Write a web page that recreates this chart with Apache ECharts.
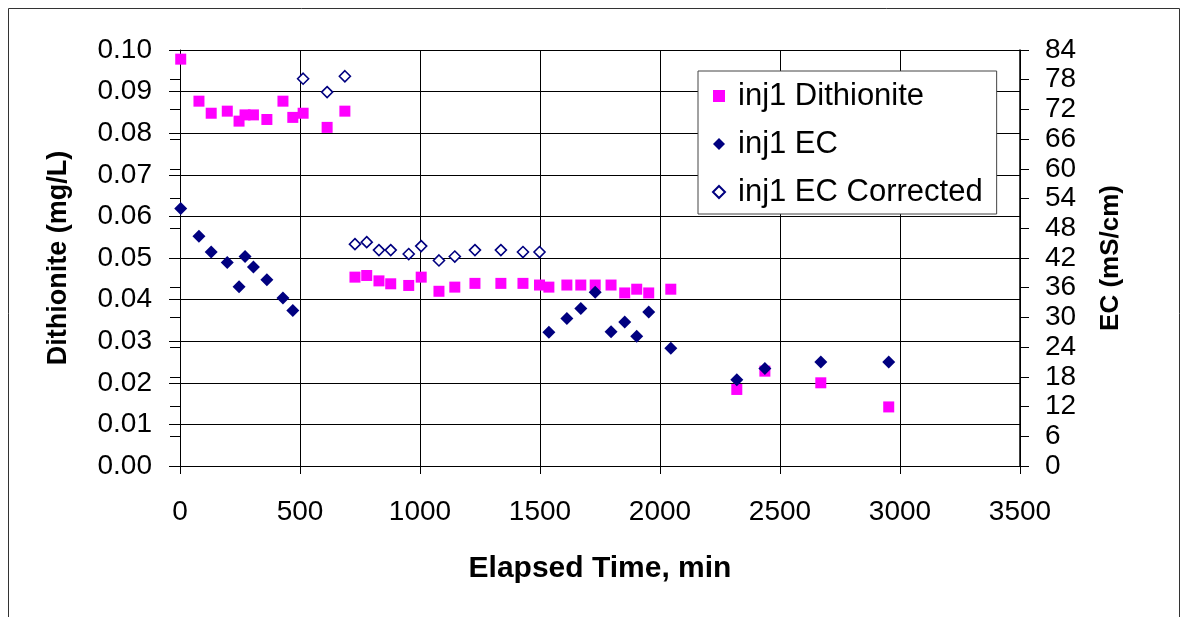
<!DOCTYPE html>
<html>
<head>
<meta charset="utf-8">
<script src="https://cdn.jsdelivr.net/npm/echarts@6/dist/echarts.min.js"></script>
<style>
html,body{margin:0;padding:0;background:#fff;}
#chart{width:1184px;height:617px;}
</style>
</head>
<body>
<div id="chart"></div>
<script>
// Elapsed time (min) shared by all series
var timeMin = [3, 79, 130, 197, 246, 271, 306, 362, 429, 470, 513, 613, 687,
  729, 778, 829, 878, 953, 1005, 1079, 1145, 1229, 1337, 1429, 1498,
  1537, 1612, 1670, 1730, 1796, 1853, 1903, 1953, 2045, 2320, 2437, 2670, 2953];
// Dithionite (mg/L)
var dithionite = [0.0978, 0.0877, 0.0848, 0.0853, 0.0829, 0.0844, 0.0844, 0.0833, 0.0877, 0.0838, 0.0848, 0.0814, 0.0853,
  0.0454, 0.0458, 0.0445, 0.0438, 0.0434, 0.0454, 0.0420, 0.0430, 0.0439, 0.0439, 0.0439, 0.0435,
  0.0430, 0.0435, 0.0435, 0.0435, 0.0435, 0.0416, 0.0425, 0.0416, 0.0425, 0.0184, 0.0228, 0.0200, 0.0142];
// EC (mS/cm)
var ec = [52.0, 46.4, 43.2, 41.1, 36.2, 42.3, 40.2, 37.6, 33.9, 31.4, null, null, null,
  null, null, null, null, null, null, null, null, null, null, null, null,
  27.0, 29.8, 31.8, 35.1, 27.1, 29.1, 26.2, 31.1, 23.8, 17.4, 19.7, 21.0, 21.0];
// EC corrected (mS/cm)
var ecCorrected = [null, null, null, null, null, null, null, null, null, null, 78.2, 75.5, 78.7,
  44.8, 45.2, 43.6, 43.6, 42.8, 44.4, 41.5, 42.3, 43.6, 43.6, 43.2, 43.2,
  null, null, null, null, null, null, null, null, null, null, null, null, null];

var seriesNames = ['inj1 Dithionite', 'inj1 EC', 'inj1 EC Corrected'];
var xTitle = 'Elapsed Time, min';
var yLeftTitle = 'Dithionite (mg/L)';
var yRightTitle = 'EC (mS/cm)';

function pairs(vals) {
  var out = [];
  for (var i = 0; i < timeMin.length; i++) {
    if (vals[i] !== null) out.push([timeMin[i], vals[i]]);
  }
  return out;
}

var FONT = '"Liberation Sans", Arial, sans-serif';
var chart = echarts.init(document.getElementById('chart'), null, {renderer: 'canvas'});

var option = {
  animation: false,
  backgroundColor: '#fff',
  textStyle: {fontFamily: FONT, color: '#000'},
  graphic: [{
    type: 'rect', left: 6, top: 6, z: -1,
    shape: {width: 1171, height: 640},
    style: {fill: 'none', stroke: '#333', lineWidth: 1}
  }],
  grid: {left: 180, right: 164, top: 50, bottom: 151, containLabel: false},
  legend: {
    orient: 'vertical',
    left: 698, top: 71,
    data: seriesNames,
    itemWidth: 12, itemHeight: 12,
    itemGap: 14,
    padding: [8, 14, 5, 14],
    borderColor: '#444', borderWidth: 1,
    backgroundColor: '#fff',
    textStyle: {fontSize: 31, fontFamily: FONT, color: '#000', lineHeight: 34, padding: [0, 0, 0, 8]}
  },
  xAxis: {
    type: 'value', min: 0, max: 3500, interval: 500,
    name: xTitle, nameLocation: 'middle', nameGap: 88,
    nameTextStyle: {fontSize: 30, fontWeight: 'bold', fontFamily: FONT, color: '#000'},
    axisLine: {show: true, lineStyle: {color: '#000', width: 1}},
    axisTick: {show: true, length: 8, lineStyle: {color: '#000'}},
    axisLabel: {fontSize: 28, margin: 32, color: '#000', fontFamily: FONT,
      formatter: function (v) { return String(v); }},
    splitLine: {show: true, lineStyle: {color: '#000', width: 1}}
  },
  yAxis: [{
    type: 'value', min: 0, max: 0.1, interval: 0.01, position: 'left',
    name: yLeftTitle, nameLocation: 'middle', nameGap: 108, nameRotate: 90,
    nameTextStyle: {fontSize: 27, fontWeight: 'bold', fontFamily: FONT, color: '#000'},
    axisLine: {show: true, onZero: false, lineStyle: {color: '#000', width: 1}},
    axisTick: {show: true, length: 11, lineStyle: {color: '#000'}},
    axisLabel: {fontSize: 28, margin: 28, color: '#000', fontFamily: FONT,
      formatter: function (v) { return v.toFixed(2); }},
    splitLine: {show: true, lineStyle: {color: '#000', width: 1}}
  }, {
    type: 'value', min: 0, max: 84, interval: 6, position: 'right',
    name: yRightTitle, nameLocation: 'middle', nameGap: 78, nameRotate: 90,
    nameTextStyle: {fontSize: 26, fontWeight: 'bold', fontFamily: FONT, color: '#000'},
    axisLine: {show: true, onZero: false, lineStyle: {color: '#000', width: 1.5}},
    axisTick: {show: true, length: 9, lineStyle: {color: '#000'}},
    axisLabel: {fontSize: 28, margin: 25, color: '#000', fontFamily: FONT},
    splitLine: {show: false}
  }, {
    type: 'value', min: 0, max: 84, interval: 6, position: 'right',
    axisLine: {show: false},
    axisTick: {show: true, inside: true, length: 10, lineStyle: {color: '#000'}},
    axisLabel: {show: false},
    splitLine: {show: false}
  }],
  series: [{
    name: seriesNames[0], type: 'scatter', yAxisIndex: 0,
    symbol: 'rect', symbolSize: 11,
    itemStyle: {color: '#FF00FF', opacity: 1},
    data: pairs(dithionite), z: 3
  }, {
    name: seriesNames[1], type: 'scatter', yAxisIndex: 1,
    symbol: 'diamond', symbolSize: 13,
    itemStyle: {color: '#000080', opacity: 1},
    data: pairs(ec), z: 4
  }, {
    name: seriesNames[2], type: 'scatter', yAxisIndex: 1,
    symbol: 'diamond', symbolSize: 11,
    itemStyle: {color: '#ffffff', borderColor: '#000080', borderWidth: 1.6, opacity: 1},
    data: pairs(ecCorrected), z: 5
  }]
};
chart.setOption(option);
</script>
</body>
</html>
